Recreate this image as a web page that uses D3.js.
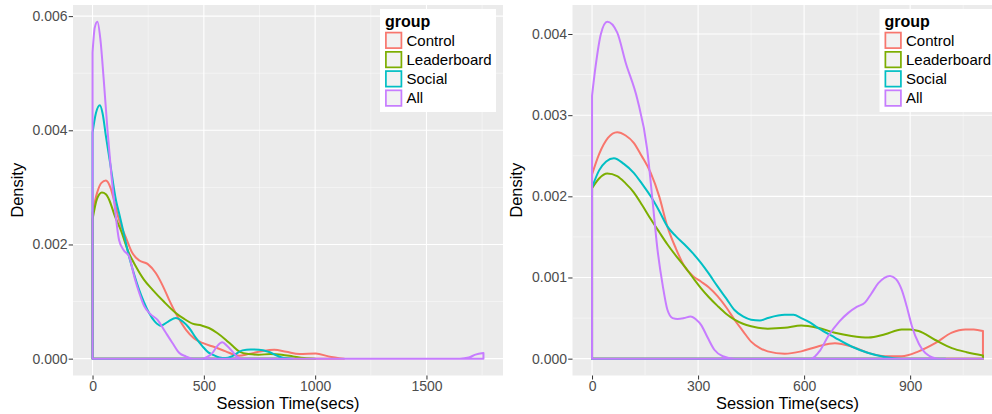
<!DOCTYPE html>
<html>
<head>
<meta charset="utf-8">
<script src="https://cdn.jsdelivr.net/npm/d3@7"></script>
<style>
  body { margin: 0; background: #fff; }
  svg { display: block; font-family: "Liberation Sans", Arial, sans-serif; }
</style>
</head>
<body>
<svg id="chart" width="992" height="414"></svg>
<script>
// groups and colours (ggplot default hues)
const groups = ["Control", "Leaderboard", "Social", "All"];
const colors = ["#F8766D", "#7CAE00", "#00BFC4", "#C77CFF"];

// left panel: density estimates, [seconds, density]
const leftControl = [[0,0.00255],[20,0.0029],[40,0.00308],[60,0.00312],[80,0.003],[100,0.00272],[119,0.00243],[150,0.00212],
  [179,0.00185],[210,0.00172],[247,0.00166],[284,0.0015],[315,0.00128],[344,0.00103],[380,0.00075],[419,0.00051],[455,0.00036],
  [494,0.000275],[550,0.0002],[598,0.000128],[658,0.00005],[700,0.00008],[760,0.00013],[816,0.000155],[870,0.00012],
  [930,0.00008],[1003,0.00009],[1060,0.00004],[1130,0]];
const leftLeaderboard = [[0,0.00244],[20,0.0028],[42,0.00291],[60,0.00288],[75,0.00278],[100,0.0025],[130,0.00222],[160,0.00188],
  [194,0.00162],[230,0.00139],[269,0.00121],[320,0.001],[374,0.0008],[410,0.0007],[449,0.000613],[490,0.00058],[523,0.000537],
  [560,0.00045],[598,0.000333],[630,0.00022],[658,0.000128],[700,0.00008],[746,0.00007],[800,0.00008],[850,0.00007],
  [900,0.00004],[950,0.00001],[1000,0]];
const leftSocial = [[0,0.00396],[15,0.0043],[33,0.00444],[45,0.0043],[60,0.0039],[80,0.0034],[105,0.00278],[119,0.00255],
  [140,0.0022],[164,0.00179],[185,0.0015],[209,0.00121],[230,0.001],[254,0.0008],[280,0.00065],[307,0.000578],[340,0.00065],
  [374,0.000713],[405,0.00065],[434,0.000537],[465,0.00036],[494,0.000216],[520,0.00011],[539,0.00007],[570,0.00002],
  [598,0.00001],[630,0.00005],[673,0.000145],[710,0.00016],[748,0.000158],[790,0.00012],[830,0.00005],[860,0.00001],[900,0]];
const leftAll = [[0,0.00536],[10,0.0058],[22,0.0059],[35,0.0056],[50,0.0049],[67,0.00401],[85,0.0032],[101,0.00261],
  [119,0.00208],[140,0.0019],[164,0.00179],[190,0.0014],[210,0.00115],[232,0.00092],[260,0.00078],[292,0.00068],[325,0.00048],
  [359,0.000275],[390,0.0001],[419,0.00004],[450,0],[494,0],[515,0.00003],[539,0.0001],[560,0.00022],[583,0.000286],
  [605,0.00022],[628,0.000128],[650,0.00003],[673,0],[1650,0],[1690,0.00002],[1720,0.00007],[1756,0.0001]];

// right panel
const rightControl = [[0,0.00227],[20,0.00252],[45,0.00272],[71,0.00279],[95,0.00275],[118,0.00266],[140,0.0025],[166,0.00229],
  [190,0.002],[213,0.00163],[237,0.00136],[261,0.00114],[285,0.00102],[308,0.00095],[330,0.00088],[355,0.00077],[380,0.00063],
  [403,0.00048],[427,0.00034],[450,0.00021],[475,0.00013],[497,0.00009],[545,0.00006],[592,0.00009],[639,0.00015],
  [687,0.00019],[734,0.00015],[782,0.00007],[829,0.00003],[876,0.00003],[924,0.00009],[971,0.00019],[1018,0.00032],
  [1056,0.00036],[1080,0.00036],[1106,0.00034]];
const rightLeaderboard = [[0,0.0021],[20,0.00222],[43,0.00228],[71,0.00225],[95,0.00216],[118,0.00205],[142,0.00189],
  [166,0.00172],[190,0.00156],[213,0.00141],[237,0.00127],[261,0.00114],[285,0.001],[308,0.00087],[330,0.00076],[355,0.00065],
  [380,0.00055],[403,0.00048],[427,0.00043],[450,0.0004],[497,0.00037],[545,0.00038],[592,0.00041],[639,0.00038],
  [687,0.00032],[734,0.00028],[782,0.00026],[829,0.0003],[876,0.00036],[900,0.00036],[924,0.00034],[971,0.00023],
  [1018,0.00013],[1060,0.00008],[1106,0.00004]];
const rightSocial = [[0,0.00211],[20,0.00232],[40,0.00243],[62,0.00247],[90,0.0024],[118,0.00229],[142,0.00215],[166,0.002],
  [190,0.00182],[213,0.00163],[237,0.00151],[261,0.00141],[285,0.0013],[308,0.00118],[330,0.00105],[355,0.00089],[380,0.00074],
  [403,0.0006],[427,0.00052],[450,0.00048],[475,0.00047],[497,0.0005],[545,0.00054],[570,0.00054],[592,0.0005],[615,0.00045],
  [639,0.00038],[687,0.00026],[734,0.00015],[782,0.00007],[829,0.00002],[876,0],[1000,0]];
const rightAll = [[0,0.00324],[10,0.0036],[25,0.004],[43,0.00415],[71,0.00402],[95,0.00365],[128,0.0032],[156,0.00258],
  [170,0.002],[185,0.00135],[200,0.0009],[213,0.000605],[228,0.0005],[242,0.00049],[260,0.0005],[279,0.00052],[295,0.00048],
  [308,0.00042],[327,0.00026],[346,0.00011],[370,0.00003],[403,0],[620,0],[645,0.0001],[668,0.000276],[700,0.00046],
  [725,0.000564],[750,0.00064],[772,0.00069],[790,0.0008],[810,0.00093],[843,0.00102],[860,0.00098],[876,0.00085],
  [890,0.00065],[905,0.0004],[925,0.00018],[943,0.00007],[980,0],[1106,0]];

// tick labels
const leftXTicks = [0, 500, 1000, 1500];
const leftYTicks = [0, 0.002, 0.004, 0.006];
const rightXTicks = [0, 300, 600, 900];
const rightYTicks = [0, 0.001, 0.002, 0.003, 0.004];

const svg = d3.select("#chart");

function drawPanel(left, series, xTicks, yTicks) {
  const top = 5, bottom = 375.5, width = 430;
  const g = svg.append("g");

  const xMax = d3.max(series, s => d3.max(s, d => d[0]));
  const yMax = d3.max(series, s => d3.max(s, d => d[1]));
  const x = d3.scaleLinear().domain([-0.05 * xMax, xMax * 1.05]).range([left, left + width]);
  const y = d3.scaleLinear().domain([-0.05 * yMax, yMax * 1.05]).range([bottom, top]);

  g.append("rect").attr("x", left).attr("y", top).attr("width", width).attr("height", bottom - top)
    .attr("fill", "#EBEBEB");

  // minor grid at midpoints
  const step = xTicks[1] - xTicks[0], ystep = yTicks[1] - yTicks[0];
  const xMinor = xTicks.map(t => t + step / 2).filter(t => x(t) < left + width);
  const yMinor = yTicks.map(t => t + ystep / 2).filter(t => y(t) > top);
  g.selectAll(".vminor").data(xMinor).enter().append("line")
    .attr("x1", d => x(d)).attr("x2", d => x(d)).attr("y1", top).attr("y2", bottom)
    .attr("stroke", "#fff").attr("stroke-width", 0.55).attr("opacity", 0.85);
  g.selectAll(".hminor").data(yMinor).enter().append("line")
    .attr("x1", left).attr("x2", left + width).attr("y1", d => y(d)).attr("y2", d => y(d))
    .attr("stroke", "#fff").attr("stroke-width", 0.55).attr("opacity", 0.85);
  g.selectAll(".vmajor").data(xTicks).enter().append("line")
    .attr("x1", d => x(d)).attr("x2", d => x(d)).attr("y1", top).attr("y2", bottom)
    .attr("stroke", "#fff").attr("stroke-width", 1.1);
  g.selectAll(".hmajor").data(yTicks).enter().append("line")
    .attr("x1", left).attr("x2", left + width).attr("y1", d => y(d)).attr("y2", d => y(d))
    .attr("stroke", "#fff").attr("stroke-width", 1.1);

  // density outlines (closed, like geom_density)
  const area = d3.area()
    .x(d => x(d[0])).y1(d => y(d[1])).y0(y(0))
    .curve(d3.curveMonotoneX);
  series.forEach(function (s, i) {
    g.append("path").attr("d", area(s))
      .attr("fill", "none").attr("stroke", colors[i]).attr("stroke-width", 2)
      .attr("stroke-linejoin", "round");
  });

  // axes
  const xAxis = g.append("g").attr("transform", "translate(0," + bottom + ")")
    .call(d3.axisBottom(x).tickValues(xTicks).tickSize(4).tickPadding(2).tickFormat(d3.format("d")));
  const yAxis = g.append("g").attr("transform", "translate(" + left + ",0)")
    .call(d3.axisLeft(y).tickValues(yTicks).tickSize(4.3).tickPadding(1.2).tickFormat(d3.format(".3f")));
  [xAxis, yAxis].forEach(function (a) {
    a.select(".domain").remove();
    a.selectAll(".tick line").attr("stroke", "#333").attr("stroke-width", 1);
    a.selectAll(".tick text").attr("fill", "#4D4D4D").style("font-size", "14px")
      .style("font-family", "Liberation Sans, Arial, sans-serif");
  });

  g.append("text").attr("x", left + width / 2).attr("y", 408.5).attr("text-anchor", "middle")
    .style("font-size", "16.4px").attr("fill", "#000").text("Session Time(secs)");
  g.append("text").attr("transform", "translate(" + (left - 50.5) + "," + ((top + bottom) / 2) + ") rotate(-90)")
    .attr("text-anchor", "middle").style("font-size", "16.4px").attr("fill", "#000").text("Density");

  // legend
  const lx = left + 307;
  const lg = g.append("g");
  lg.append("rect").attr("x", lx).attr("y", 9).attr("width", 116).attr("height", 103).attr("fill", "#fff");
  lg.append("text").attr("x", lx + 5).attr("y", 26.5).style("font-size", "16px").style("font-weight", "bold")
    .text("group");
  groups.forEach(function (name, i) {
    const ky = 31.7 + i * 19.25;
    lg.append("rect").attr("x", lx + 5).attr("y", ky).attr("width", 17.3).attr("height", 17.3).attr("fill", "#F2F2F2");
    lg.append("rect").attr("x", lx + 5.9).attr("y", ky + 0.9).attr("width", 15.5).attr("height", 15.5)
      .attr("fill", "none").attr("stroke", colors[i]).attr("stroke-width", 1.7);
    lg.append("text").attr("x", lx + 26.5).attr("y", ky + 14).style("font-size", "15px").attr("fill", "#000")
      .text(name);
  });
}

drawPanel(73, [leftControl, leftLeaderboard, leftSocial, leftAll], leftXTicks, leftYTicks);
drawPanel(572.5, [rightControl, rightLeaderboard, rightSocial, rightAll], rightXTicks, rightYTicks);
</script>
</body>
</html>
